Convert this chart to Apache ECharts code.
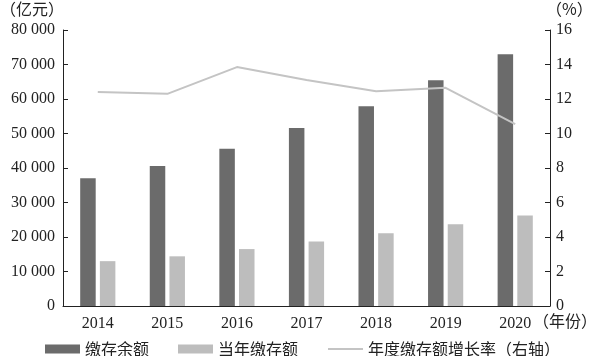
<!DOCTYPE html>
<html><head><meta charset="utf-8">
<script src="https://cdn.jsdelivr.net/npm/echarts@6/dist/echarts.min.js"></script>
<style>html,body{margin:0;padding:0;background:#fff}#c{width:597px;height:356px}</style>
</head><body><div id="c"></div>
<script>
var years = ['2014','2015','2016','2017','2018','2019','2020'];
var balance = [37000, 40600, 45600, 51600, 57900, 65400, 73000];
var annualDeposit = [13000, 14400, 16500, 18700, 21100, 23700, 26200];
var growthRate = [12.4, 12.3, 13.85, 13.1, 12.45, 12.65, 10.55];
var seriesNames = ['缴存余额', '当年缴存额', '年度缴存额增长率（右轴）'];

var serif = '"Liberation Serif", "Times New Roman", serif';
var cjk = '"Noto Sans CJK SC", sans-serif';
var txt = '#222';

function fmtThousands(v) {
  return String(v).replace(/\B(?=(\d{3})+(?!\d))/g, ' ');
}

var chart = echarts.init(document.getElementById('c'), null, {renderer: 'canvas'});
chart.setOption({
  animation: false,
  backgroundColor: '#fff',
  grid: {left: 63, right: 47, top: 30, bottom: 50, containLabel: false},
  legend: {
    left: 40, top: 336,
    itemWidth: 35, itemHeight: 9, itemGap: 29,
    textStyle: {fontFamily: cjk, fontSize: 16, color: txt},
    data: [
      {name: seriesNames[0], icon: 'rect'},
      {name: seriesNames[1], icon: 'rect'},
      {name: seriesNames[2], itemStyle: {color: 'rgba(0,0,0,0)', borderWidth: 0, opacity: 0}}
    ]
  },
  xAxis: {
    type: 'category', data: years, boundaryGap: true,
    axisLine: {lineStyle: {color: '#222', width: 1}},
    axisTick: {inside: true, length: 7, lineStyle: {color: '#222'}},
    axisLabel: {fontFamily: serif, fontSize: 16, color: txt, margin: 10}
  },
  yAxis: [
    {
      type: 'value', min: 0, max: 80000, interval: 10000,
      axisLine: {show: true, lineStyle: {color: '#222'}},
      axisTick: {show: true, inside: true, length: 5, lineStyle: {color: '#222'}},
      splitLine: {show: false},
      axisLabel: {fontFamily: serif, fontSize: 16, color: txt, margin: 8, formatter: fmtThousands}
    },
    {
      type: 'value', min: 0, max: 16, interval: 2, position: 'right',
      axisLine: {show: true, lineStyle: {color: '#222'}},
      axisTick: {show: true, inside: true, length: 5, lineStyle: {color: '#222'}},
      splitLine: {show: false},
      axisLabel: {fontFamily: serif, fontSize: 16, color: txt, margin: 6}
    }
  ],
  graphic: [
    {type: 'text', left: 0, top: 1, style: {text: '（亿元）', font: '16px ' + cjk, fill: txt}},
    {type: 'text', left: 546, top: 1, style: {text: '（%）', font: '16px ' + cjk, fill: txt}},
    {type: 'text', left: 533, top: 313, style: {text: '（年份）', font: '16px ' + cjk, fill: txt}}
  ],
  series: [
    {
      name: seriesNames[0], type: 'bar', data: balance, yAxisIndex: 0,
      barWidth: 15.5, barGap: '27%',
      itemStyle: {color: '#6b6b6b'}
    },
    {
      name: seriesNames[1], type: 'bar', data: annualDeposit, yAxisIndex: 0,
      barWidth: 15.5,
      itemStyle: {color: '#bdbdbd'}
    },
    {
      name: seriesNames[2], type: 'line', data: growthRate, yAxisIndex: 1,
      symbol: 'none', lineStyle: {color: '#c4c4c4', width: 2}, itemStyle: {color: '#c4c4c4'}
    }
  ]
});
</script></body></html>
